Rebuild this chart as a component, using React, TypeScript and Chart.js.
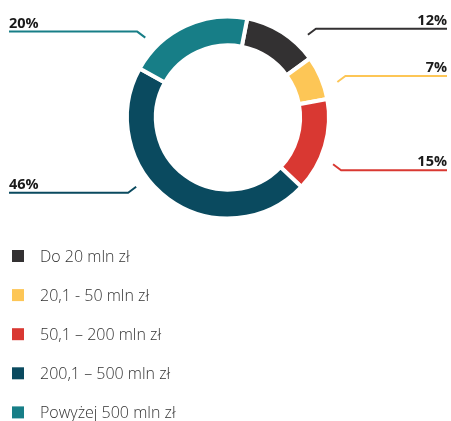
import React, { useEffect, useRef } from "react";
import { Chart, registerables } from "chart.js";

Chart.register(...registerables);

const categories = [
  "Do 20 mln zł",
  "20,1 - 50 mln zł",
  "50,1 – 200 mln zł",
  "200,1 – 500 mln zł",
  "Powyżej 500 mln zł",
];
const shares = [12, 7, 15, 46, 20];
const shareLabels = ["12%", "7%", "15%", "46%", "20%"];
const colors = ["#333132", "#FDC656", "#D93832", "#0A4A5F", "#177E87"];

// layout of the leader lines (angle from top, clockwise, in degrees)
const anchorDeg = [44, 72, 114, 233, 314];

const FONT = "'Open Sans', 'Noto Sans', sans-serif";

const overlayPlugin = {
  id: "overlay",
  afterDraw(chart: any) {
    const ctx: CanvasRenderingContext2D = chart.ctx;
    const meta = chart.getDatasetMeta(0);
    const W = chart.width;
    ctx.save();
    meta.data.forEach((arc: any, i: number) => {
      const cx = arc.x;
      const cy = arc.y;
      const r = arc.outerRadius + 14;
      const a = (anchorDeg[i] * Math.PI) / 180;
      const sx = cx + r * Math.sin(a);
      const sy = cy - r * Math.cos(a);
      const right = sx > cx;
      const up = sy < cy;
      const ex = sx + (right ? 8 : -8);
      const ey = sy + (up ? -6 : 6);
      const endX = right ? W - 4 : 9;
      ctx.strokeStyle = colors[i];
      ctx.lineWidth = 2;
      ctx.lineJoin = "round";
      ctx.beginPath();
      ctx.moveTo(sx, sy);
      ctx.lineTo(ex, ey);
      ctx.lineTo(endX, ey);
      ctx.stroke();
      ctx.fillStyle = "#1a1a1a";
      ctx.font = `bold 14.5px ${FONT}`;
      ctx.textBaseline = "alphabetic";
      ctx.textAlign = right ? "right" : "left";
      ctx.fillText(shareLabels[i], endX, ey - 4);
    });
    // legend
    const x0 = 12;
    const y0 = 256;
    const step = 39.1;
    categories.forEach((c, i) => {
      const y = y0 + i * step;
      ctx.fillStyle = colors[i];
      ctx.fillRect(x0, y - 6, 12, 12);
      ctx.fillStyle = "#333333";
      ctx.font = `300 16px ${FONT}`;
      ctx.textAlign = "left";
      ctx.textBaseline = "middle";
      ctx.fillText(c, 40, y + 1);
    });
    ctx.restore();
  },
};

export default function App() {
  const ref = useRef<HTMLCanvasElement | null>(null);
  useEffect(() => {
    if (!ref.current) return;
    const chart = new Chart(ref.current, {
      type: "doughnut",
      data: {
        labels: categories,
        datasets: [
          {
            data: shares,
            backgroundColor: colors,
            borderColor: "#ffffff",
            borderWidth: 4,
            hoverOffset: 0,
          },
        ],
      },
      options: {
        responsive: true,
        maintainAspectRatio: false,
        animation: false,
        rotation: 11,
        radius: 101,
        cutout: 70,
        layout: { padding: { left: 128, right: 123, top: 17, bottom: 203 } },
        plugins: {
          legend: { display: false },
          tooltip: { enabled: false },
        },
      },
      plugins: [overlayPlugin],
    });
    return () => chart.destroy();
  }, []);
  return (
    <div style={{ position: "absolute", left: 0, top: 0, width: 451, height: 421, background: "#fff" }}>
      <canvas ref={ref} />
    </div>
  );
}
